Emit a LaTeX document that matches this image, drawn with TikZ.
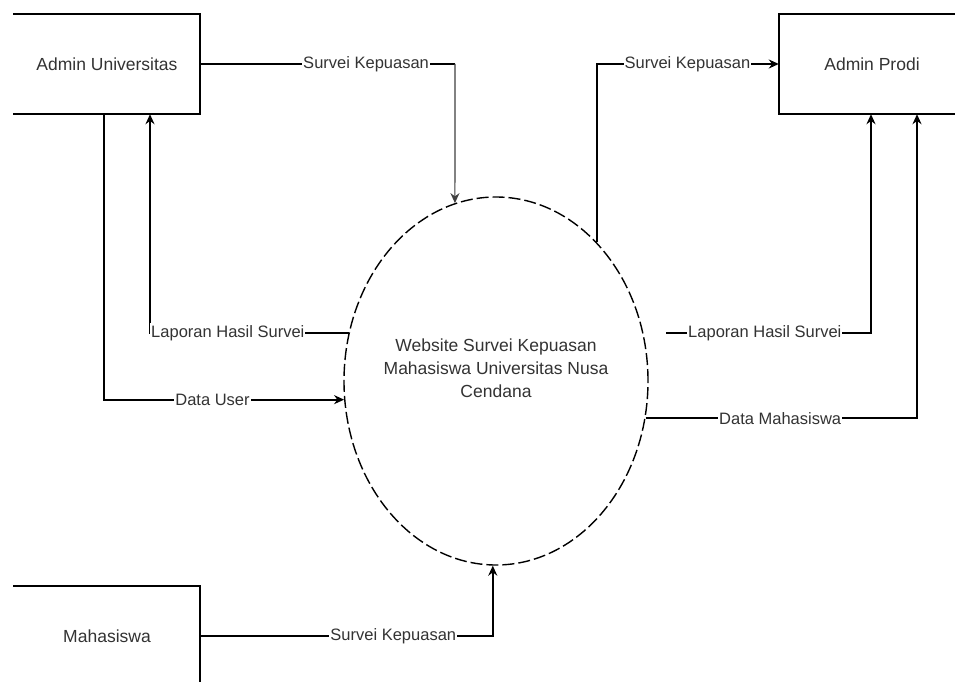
\documentclass[tikz,border=0pt]{standalone}
\usepackage{fontspec}
\setmainfont{Liberation Sans}
\usetikzlibrary{arrows.meta,shapes.geometric}
\begin{document}
\begin{tikzpicture}[x=1pt,y=-1pt,
  ent/.style={minimum width=186pt,minimum height=100pt,inner sep=0pt,font=\fontsize{17.5}{21}\selectfont,text=black!80},
  side/.style={line width=2pt,line cap=rect},
  flow/.style={line width=1.9pt,-{Stealth[length=10pt,width=9pt]}},
  thinflow/.style={line width=1.1pt,draw=black!75,-{Stealth[length=10pt,width=9pt]}},
  lbl/.style={fill=white,inner xsep=1pt,inner ysep=2pt,font=\fontsize{16.5}{19}\selectfont,text=black!80}]
\useasboundingbox (0,0) rectangle (955,682);
\clip (0,0) rectangle (955,682);
\fill[white] (0,0) rectangle (955,682);

% entities
\node[ent] (u) at (107,64) {Admin Universitas};
\node[ent] (p) at (872,64) {Admin Prodi};
\node[ent] (m) at (107,636) {Mahasiswa};
\draw[side] (u.north west) -- (u.north east) -- (u.south east) -- (u.south west);
\draw[side] (p.north east) -- (p.north west) -- (p.south west) -- (p.south east);
\draw[side] (m.north west) -- (m.north east) -- (m.south east) -- (m.south west);

% process
\node[ellipse,draw,dash pattern=on 12pt off 4pt,line width=1.4pt,minimum width=304pt,minimum height=368pt,inner sep=0pt] (c) at (496,381) {};
\node[align=center,font=\fontsize{17.5}{23}\selectfont,text=black!80] (ct) at (496,368)
  {Website Survei Kepuasan\\Mahasiswa Universitas Nusa\\Cendana};

% flows
\coordinate (r5) at (666,333);
\coordinate (k1) at (455,64);
\draw[line width=1.9pt] (u.east) -- node[lbl,pos=0.651] (l1) {Survei Kepuasan} (k1);
\draw[thinflow] (k1) -- (c.103);
\draw[flow] ([xshift=-3pt]u.south) |- node[lbl,pos=0.726] (l2) {Data User} (c.187);
\draw[flow] (c.162) -| node[lbl,pos=0.304] (l3) {Laporan Hasil Survei} ([xshift=43pt]u.south);
\draw[flow] (c.54) |- node[lbl,pos=0.749] (l4) {Survei Kepuasan} (p.west);
\draw[flow] (r5) -| node[lbl,pos=0.241] (l5) {Laporan Hasil Survei} ([xshift=-1pt]p.south);
\draw[flow] (c.346) -| node[lbl,pos=0.248] (l6) {Data Mahasiswa} ([xshift=45pt]p.south);
\draw[flow] (m.east) -| node[lbl,pos=0.33] (l7) {Survei Kepuasan} (c.269);
\end{tikzpicture}
\end{document}
